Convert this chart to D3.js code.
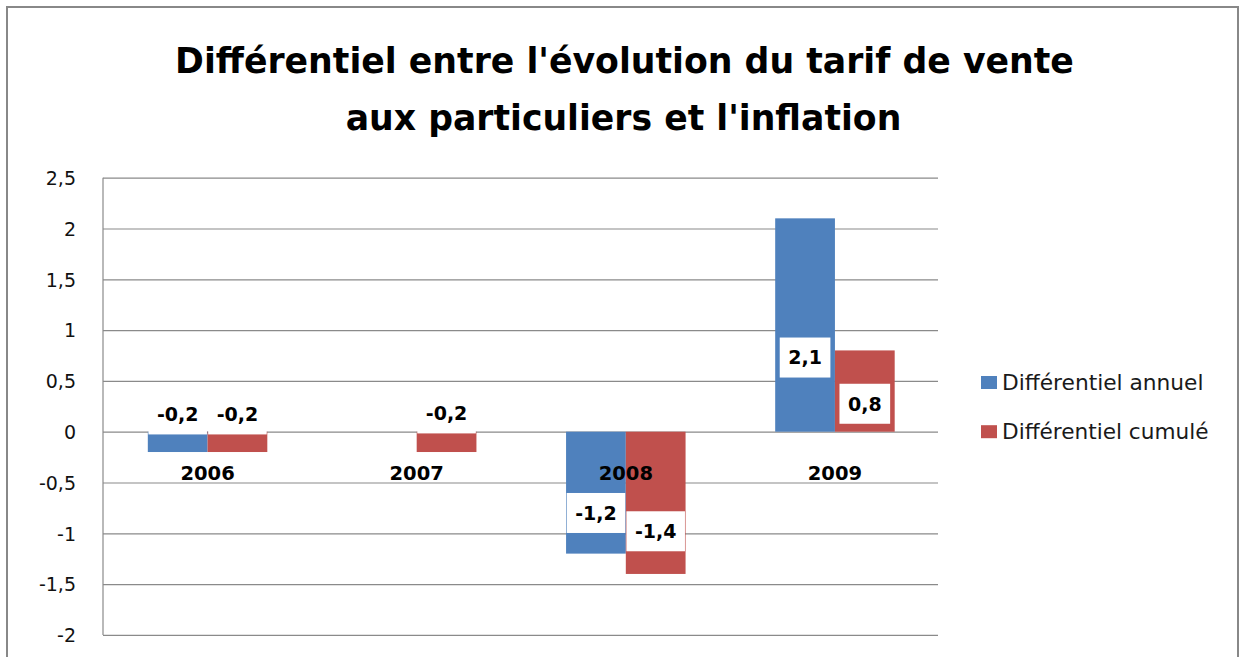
<!DOCTYPE html>
<html>
<head>
<meta charset="utf-8">
<script src="https://cdn.jsdelivr.net/npm/d3@7/dist/d3.min.js"></script>
<style>
  html, body { margin: 0; padding: 0; background: #ffffff; }
  svg { display: block; }
</style>
</head>
<body>
<svg id="chart" width="1245" height="657"></svg>
<script>
// ---- data ----
const years = ["2006", "2007", "2008", "2009"];
const seriesNames = ["Différentiel annuel", "Différentiel cumulé"];
const annuel = [-0.2, null, -1.2, 2.1];
const cumule = [-0.2, -0.2, -1.4, 0.8];
const yTicks = [-2, -1.5, -1, -0.5, 0, 0.5, 1, 1.5, 2, 2.5];
const titleLines = ["Différentiel entre l'évolution du tarif de vente", "aux particuliers et l'inflation"];
// where each data label box is centred (in value units), as placed in the original
const labelAnchorAnnuel = [0.17, null, -0.8, 0.73];
const labelAnchorCumule = [0.17, 0.18, -0.98, 0.275];

// ---- styles / layout ----
const colors = ["#4F81BD", "#C0504D"];
const FONT = "'DejaVu Sans', sans-serif";
const plot = { left: 103, right: 939.5, top: 177.7, bottom: 634.9 };

const svg = d3.select("#chart");
const fr = d3.formatLocale({ decimal: ",", thousands: " ", grouping: [3], currency: ["", " €"], minus: "-" });
const fmt = v => fr.format("~g")(v);

function fitWidth(el, base, target) {
  el.attr("font-size", base);
  const len = el.node().getComputedTextLength();
  el.attr("font-size", base * target / len);
}

// chart border
svg.append("rect").attr("x", 7).attr("y", 7).attr("width", 1231).attr("height", 720)
  .attr("fill", "#ffffff").attr("stroke", "#888888").attr("stroke-width", 2);

// title (fit each line to its width in the original)
const titleTargets = [{ w: 899, cx: 624.5, base: 72.7 }, { w: 556, cx: 623.5, base: 130 }];
titleLines.forEach((t, i) => {
  const el = svg.append("text").text(t)
    .attr("x", titleTargets[i].cx).attr("y", titleTargets[i].base)
    .attr("text-anchor", "middle").attr("font-family", FONT).attr("font-weight", "bold")
    .attr("fill", "#000");
  fitWidth(el, 40, titleTargets[i].w);
});

// scales
const y = d3.scaleLinear().domain([-2, 2.5]).range([plot.bottom, plot.top]);
const x0 = d3.scaleBand().domain(years).range([plot.left, plot.right]).padding(0);
const x1 = d3.scaleBand().domain([0, 1]).range([0, x0.bandwidth()]).paddingInner(0).paddingOuter(0.75);

// gridlines + tick labels
const yAxis = d3.axisLeft(y).tickValues(yTicks).tickFormat(fmt).tickSize(-(plot.right - plot.left - 1.5)).tickPadding(27);
const gy = svg.append("g").attr("transform", `translate(${plot.left},0)`).call(yAxis);
gy.select(".domain").remove();
gy.selectAll(".tick line").attr("stroke", "#8a8a8a").attr("stroke-width", 1.2);
gy.selectAll(".tick text").attr("font-family", FONT).attr("font-size", 19).attr("fill", "#111").attr("dy", "0.36em");
svg.append("line").attr("x1", plot.left).attr("x2", plot.left).attr("y1", plot.top).attr("y2", plot.bottom)
  .attr("stroke", "#8a8a8a").attr("stroke-width", 1.2);

// bars
const series = [annuel, cumule];
const bars = svg.append("g");
series.forEach((vals, s) => {
  vals.forEach((v, i) => {
    if (v === null) return;
    bars.append("rect")
      .attr("x", x0(years[i]) + x1(s))
      .attr("width", x1.bandwidth())
      .attr("y", y(Math.max(0, v)))
      .attr("height", Math.abs(y(v) - y(0)))
      .attr("fill", colors[s]);
  });
});

// category labels
svg.append("g").selectAll("text").data(years).join("text")
  .attr("x", d => x0(d) + x0.bandwidth() / 2)
  .attr("y", 473).attr("dy", "0.36em")
  .attr("text-anchor", "middle").attr("font-family", FONT).attr("font-weight", "bold")
  .attr("font-size", 19.5).attr("fill", "#000").text(d => d);

// data labels with white boxes
const anchors = [labelAnchorAnnuel, labelAnchorCumule];
const lab = svg.append("g");
series.forEach((vals, s) => {
  vals.forEach((v, i) => {
    if (v === null || anchors[s][i] === null) return;
    const cx = x0(years[i]) + x1(s) + x1.bandwidth() / 2;
    const cy = y(anchors[s][i]);
    const g = lab.append("g");
    const box = g.append("rect").attr("fill", "#ffffff");
    const t = g.append("text").attr("x", cx).attr("y", cy).attr("dy", "0.36em")
      .attr("text-anchor", "middle").attr("font-family", FONT).attr("font-weight", "bold")
      .attr("font-size", 19).attr("fill", "#000").text(fmt(v));
    const tw = t.node().getComputedTextLength();
    const bw = tw + 17, bh = 40;
    box.attr("x", cx - bw / 2).attr("y", cy - bh / 2).attr("width", bw).attr("height", bh);
  });
});

// legend
const leg = svg.append("g");
const legTargets = [201.6, 206.6];
seriesNames.forEach((n, s) => {
  const cy = [382.5, 431.7][s];
  leg.append("rect").attr("x", 981).attr("y", cy - 6.5).attr("width", 16).attr("height", 13).attr("fill", colors[s]);
  const t = leg.append("text").attr("x", 1002).attr("y", cy).attr("dy", "0.36em")
    .attr("font-family", FONT).attr("fill", "#1a1a1a").text(n);
  fitWidth(t, 19, legTargets[s]);
});
</script>
</body>
</html>
